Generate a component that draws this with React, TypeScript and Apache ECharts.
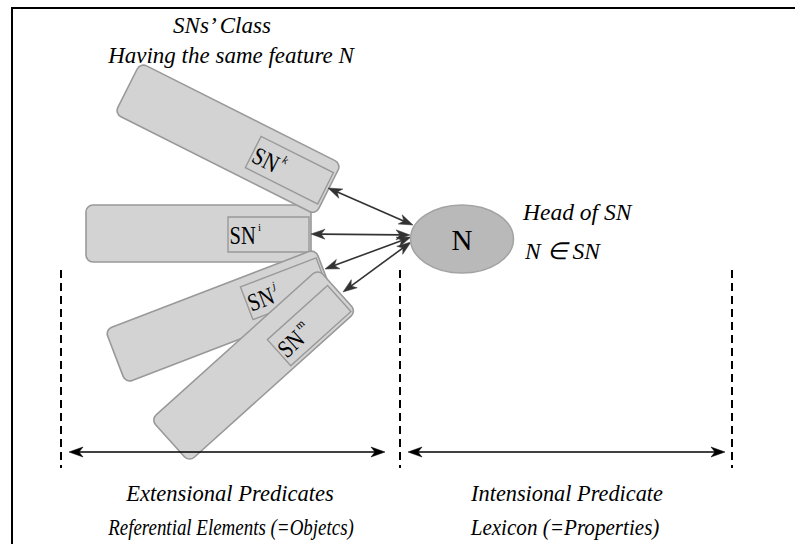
import React, { useEffect, useRef } from "react";
import * as echarts from "echarts";

// ---- texts ----
const titleLines = ["SNs’ Class", "Having the same feature N"];
const headLines = ["Head of SN", "N ∈ SN"];
const nodeLabel = "N";
const snNames = ["SN", "SN", "SN", "SN"];
const snSuperscripts = ["i", "k", "j", "m"];
const leftLabels = ["Extensional Predicates", "Referential Elements (=Objetcs)"];
const rightLabels = ["Intensional Predicate", "Lexicon (=Properties)"];

// ---- layout (diagram geometry) ----
const SN_BOX = { w: 225, h: 57, r: 7, iw: 81, ih: 35 };
const SN_LAYOUT = [
  { cx: 198.5, cy: 233.5, rot: 0, ix: 29.5, iy: -16.5, supItalic: false },
  { cx: 228, cy: 138.7, rot: -26.7, ix: 28.5, iy: -17, supItalic: true },
  { cx: 220.5, cy: 316, rot: 21, ix: 29, iy: -20, supItalic: true },
  { cx: 253.6, cy: 365.5, rot: 42, ix: 27.5, iy: -10, supItalic: false },
];
const DRAW_ORDER = [0, 1, 2, 3];
const LINKS: [number, number, number, number][] = [
  [328, 188, 413, 225],
  [311, 234, 410, 235],
  [325, 269, 411, 237],
  [343, 292, 411, 242],
];
const NODE = { cx: 462, cy: 239, rx: 51.5, ry: 34 };
const DASH_X = [61, 400, 732];
const DASH_Y = [270, 468];
const SPANS: [number, number][] = [
  [69, 385],
  [408, 725],
];
const SPAN_Y = 452;

const SERIF = '"Liberation Serif", "Times New Roman", serif';

function arrowHead(
  tip: [number, number],
  from: [number, number],
  color: string,
  len = 13,
  half = 4.5,
  notch = 4
) {
  const dx = tip[0] - from[0];
  const dy = tip[1] - from[1];
  const L = Math.hypot(dx, dy);
  const ux = dx / L;
  const uy = dy / L;
  const nx = -uy;
  const ny = ux;
  const bx = tip[0] - ux * len;
  const by = tip[1] - uy * len;
  return {
    type: "polygon",
    shape: {
      points: [
        tip,
        [bx + nx * half, by + ny * half],
        [tip[0] - ux * (len - notch), tip[1] - uy * (len - notch)],
        [bx - nx * half, by - ny * half],
      ],
    },
    style: { fill: color, stroke: color, lineWidth: 0.5 },
  };
}

function doubleArrow(
  x1: number,
  y1: number,
  x2: number,
  y2: number,
  color: string,
  lw: number,
  len: number,
  half: number
) {
  const dx = x2 - x1;
  const dy = y2 - y1;
  const L = Math.hypot(dx, dy);
  const ux = dx / L;
  const uy = dy / L;
  const inset = len - 5;
  return [
    {
      type: "line",
      shape: {
        x1: x1 + ux * inset,
        y1: y1 + uy * inset,
        x2: x2 - ux * inset,
        y2: y2 - uy * inset,
      },
      style: { stroke: color, lineWidth: lw },
    },
    arrowHead([x1, y1], [x2, y2], color, len, half),
    arrowHead([x2, y2], [x1, y1], color, len, half),
  ];
}

function snGroup(i: number) {
  const L = SN_LAYOUT[i];
  return {
    type: "group",
    x: L.cx,
    y: L.cy,
    rotation: (L.rot * Math.PI) / 180,
    children: [
      {
        type: "rect",
        shape: { x: -SN_BOX.w / 2, y: -SN_BOX.h / 2, width: SN_BOX.w, height: SN_BOX.h, r: SN_BOX.r },
        style: { fill: "#d3d3d3", stroke: "#999", lineWidth: 1.6 },
      },
      {
        type: "rect",
        shape: { x: L.ix, y: L.iy, width: SN_BOX.iw, height: SN_BOX.ih },
        style: { fill: "#d3d3d3", stroke: "#999", lineWidth: 1.4 },
      },
      {
        type: "text",
        x: L.ix + 1.5,
        y: L.iy + 19,
        scaleX: 0.82,
        style: {
          text: snNames[i],
          fontSize: 25,
          fontFamily: SERIF,
          fill: "#000",
          align: "left",
          verticalAlign: "middle",
        },
      },
      {
        type: "text",
        x: L.ix + 30,
        y: L.iy + 10,
        style: {
          text: snSuperscripts[i],
          fontSize: 11,
          fontStyle: L.supItalic ? "italic" : "normal",
          fontFamily: SERIF,
          fill: "#000",
          align: "left",
          verticalAlign: "middle",
        },
      },
    ],
  };
}

function italicText(text: string, x: number, y: number, size: number, align = "center", scaleX = 1) {
  return {
    type: "text",
    x,
    y,
    scaleX,
    style: {
      text,
      fontSize: size,
      fontStyle: "italic",
      fontFamily: SERIF,
      fill: "#000",
      align,
      verticalAlign: "middle",
    },
  };
}

export default function App() {
  const ref = useRef<HTMLDivElement>(null);
  useEffect(() => {
    if (!ref.current) return;
    const chart = echarts.init(ref.current, undefined, { renderer: "svg" });
    const elements: any[] = [];
    // frame
    elements.push({
      type: "polyline",
      shape: { points: [[12, 560], [12, 8], [800, 8]] },
      style: { stroke: "#000", lineWidth: 2, fill: "none" },
    });
    // dashed separators
    DASH_X.forEach((x) =>
      elements.push({
        type: "line",
        shape: { x1: x, y1: DASH_Y[0], x2: x, y2: DASH_Y[1] },
        style: { stroke: "#000", lineWidth: 2, lineDash: [8, 5] },
      })
    );
    // SN boxes
    DRAW_ORDER.forEach((i) => elements.push(snGroup(i)));
    // links to head
    LINKS.forEach(([a, b, c, d]) => elements.push(...doubleArrow(a, b, c, d, "#333", 1.6, 14, 5)));
    // head node
    elements.push({
      type: "ellipse",
      shape: NODE,
      style: { fill: "#b9b9b9", stroke: "#a3a3a3", lineWidth: 1.5 },
    });
    elements.push({
      type: "text",
      x: NODE.cx,
      y: NODE.cy + 1,
      style: {
        text: nodeLabel,
        fontSize: 29,
        fontFamily: SERIF,
        fill: "#000",
        align: "center",
        verticalAlign: "middle",
      },
    });
    // spans
    SPANS.forEach(([x1, x2]) => elements.push(...doubleArrow(x1, SPAN_Y, x2, SPAN_Y, "#000", 1.6, 14, 5)));
    // texts
    elements.push(italicText(titleLines[0], 222, 25, 23));
    elements.push(italicText(titleLines[1], 231, 55, 23));
    elements.push(italicText(headLines[0], 523, 212, 23.5, "left"));
    elements.push(italicText(headLines[1], 525, 251, 23.5, "left"));
    elements.push(italicText(leftLabels[0], 230, 493, 24, "center", 0.94));
    elements.push(italicText(leftLabels[1], 231, 527, 24, "center", 0.79));
    elements.push(italicText(rightLabels[0], 567, 493, 24, "center", 0.93));
    elements.push(italicText(rightLabels[1], 565, 527, 24, "center", 0.88));

    chart.setOption({
      animation: false,
      backgroundColor: "#fff",
      graphic: { elements },
    });
    return () => chart.dispose();
  }, []);
  return (
    <div
      ref={ref}
      style={{ position: "fixed", left: 0, top: 0, width: 795, height: 544 }}
    />
  );
}
